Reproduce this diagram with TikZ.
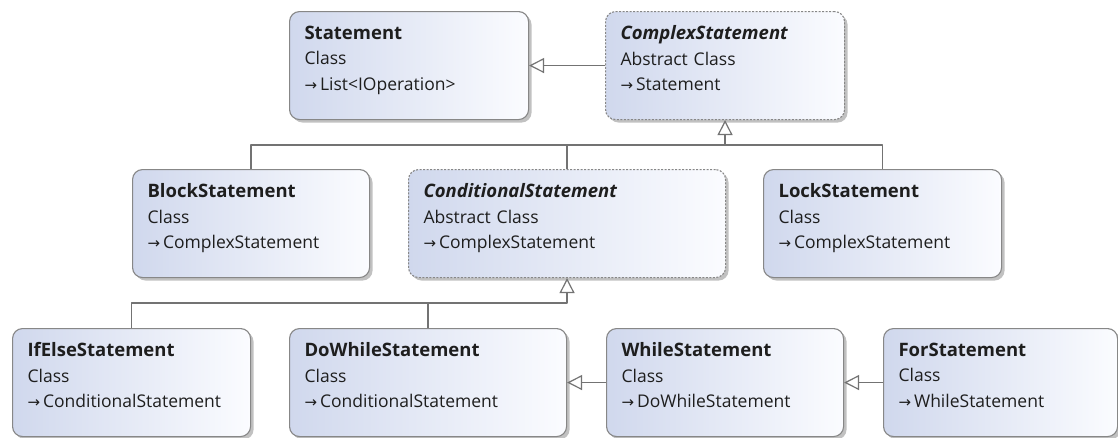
\documentclass[tikz,border=0pt]{standalone}
\usepackage{fontspec}
\setmainfont{Open Sans}
\newfontfamily\symfont{DejaVu Sans}
\usetikzlibrary{arrows.meta, shadows}
\definecolor{boxleft}{RGB}{208,216,237}
\definecolor{boxright}{RGB}{251,252,255}
\definecolor{boxline}{RGB}{135,135,135}
\definecolor{conn}{RGB}{115,115,115}
\definecolor{txt}{RGB}{30,30,30}
\newcommand\inh{{\symfont\fontsize{15}{15}\selectfont →}\,}
\newcommand\ttl[1]{{\fontsize{18.5}{25}\selectfont\bfseries #1}}

\begin{document}
\begin{tikzpicture}[x=1pt, y=-1pt, line join=round,
    cls/.style={draw=boxline, line width=1.1pt, rounded corners=10pt,
      left color=boxleft, right color=boxright,
      drop shadow={shadow xshift=3pt, shadow yshift=-3pt, opacity=0.4, fill=black!60},
      anchor=north west, align=left, minimum height=108pt, inner xsep=15pt,
      text width=#1-30pt, text depth=66pt, text=txt,
      font=\fontsize{17.5}{25.5}\selectfont},
    abstract/.style={cls=#1, dash pattern=on 2pt off 1.5pt},
    link/.style={draw=conn, line width=1.2pt},
    inherit/.style={link, -{Triangle[length=15pt, width=15pt, fill=white]}}]

  \path[fill=white, use as bounding box] (0,0) rectangle (1118,437);

  % top row
  \node[cls=239pt] (stmt) at (289,11)
    {\ttl{Statement}\\Class\\\inh List<IOperation>};
  \node[abstract=239pt] (cplx) at (605,11)
    {\ttl{\itshape ComplexStatement}\\Abstract Class\\\inh Statement};

  % middle row
  \node[cls=237pt] (block) at (132,169)
    {\ttl{BlockStatement}\\Class\\\inh ComplexStatement};
  \node[abstract=317pt] (cond) at (408,169)
    {\ttl{\itshape ConditionalStatement}\\Abstract Class\\\inh ComplexStatement};
  \node[cls=238pt] (lock) at (763,169)
    {\ttl{LockStatement}\\Class\\\inh ComplexStatement};

  % bottom row
  \node[cls=238pt] (ifelse) at (12,328)
    {\ttl{IfElseStatement}\\Class\\\inh ConditionalStatement};
  \node[cls=277pt] (dowhile) at (289,328)
    {\ttl{DoWhileStatement}\\Class\\\inh ConditionalStatement};
  \node[cls=237pt] (while) at (606,328)
    {\ttl{WhileStatement}\\Class\\\inh DoWhileStatement};
  \node[cls=234pt] (for) at (883,328)
    {\ttl{ForStatement}\\Class\\\inh WhileStatement};

  % inheritance
  \coordinate (cbus) at (cplx.south |- 0,145);
  \coordinate (dbus) at (cond.south |- 0,303);
  \draw[inherit] (cplx.west) -- (stmt.east);
  \draw[inherit] (block.north) |- (cbus) -- (cplx.south);
  \draw[link] (cond.north) |- (cbus);
  \draw[link] (lock.north) |- (cbus);
  \draw[inherit] (ifelse.north) |- (dbus) -- (cond.south);
  \draw[link] (dowhile.north) |- (dbus);
  \draw[inherit] (while.west) -- (dowhile.east);
  \draw[inherit] (for.west) -- (while.east);

\end{tikzpicture}
\end{document}
